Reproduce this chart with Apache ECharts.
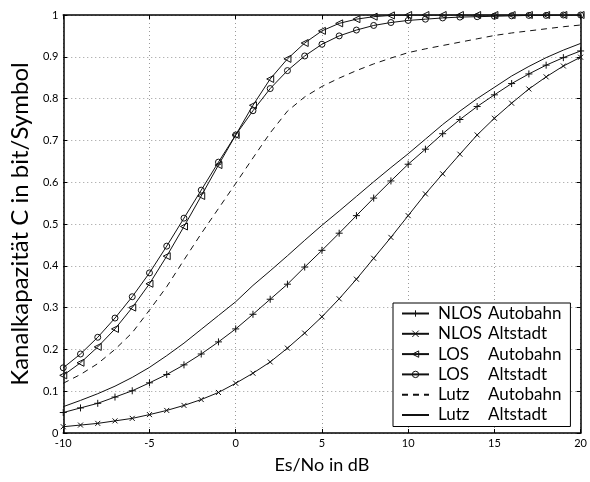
<!DOCTYPE html>
<html><head><meta charset="utf-8">
<script src="https://cdn.jsdelivr.net/npm/echarts@6/dist/echarts.min.js"></script>
<style>html,body{margin:0;padding:0;background:#fff}#c{width:590px;height:482px}</style>
</head><body><div id="c"></div>
<script>
const esNo = [-10,-9,-8,-7,-6,-5,-4,-3,-2,-1,0,1,2,3,4,5,6,7,8,9,10,11,12,13,14,15,16,17,18,19,20];
const nlosAutobahn = [0.049,0.060,0.071,0.086,0.101,0.120,0.140,0.163,0.189,0.218,0.249,0.284,0.320,0.356,0.397,0.437,0.478,0.520,0.562,0.603,0.643,0.679,0.716,0.750,0.781,0.809,0.836,0.859,0.880,0.898,0.914];
const nlosAltstadt = [0.015,0.019,0.023,0.029,0.035,0.044,0.054,0.066,0.080,0.097,0.119,0.143,0.170,0.203,0.239,0.278,0.321,0.368,0.418,0.468,0.520,0.572,0.620,0.667,0.713,0.753,0.789,0.823,0.852,0.878,0.899];
const losAutobahn = [0.138,0.168,0.206,0.249,0.300,0.357,0.423,0.494,0.567,0.641,0.713,0.784,0.847,0.895,0.933,0.962,0.980,0.990,0.996,0.999,1,1,1,1,1,1,1,1,1,1,1];
const losAltstadt = [0.156,0.189,0.229,0.275,0.326,0.383,0.447,0.514,0.581,0.648,0.713,0.771,0.824,0.867,0.902,0.930,0.950,0.964,0.975,0.982,0.987,0.990,0.993,0.995,0.996,0.997,0.998,0.999,0.999,1,1];
const lutzAutobahn = [0.119,0.140,0.166,0.200,0.240,0.294,0.350,0.414,0.477,0.537,0.597,0.658,0.718,0.770,0.804,0.829,0.849,0.867,0.883,0.897,0.910,0.919,0.927,0.935,0.943,0.951,0.957,0.962,0.967,0.972,0.976];
const lutzAltstadt = [0.063,0.078,0.094,0.112,0.133,0.157,0.185,0.215,0.248,0.281,0.314,0.353,0.388,0.424,0.461,0.497,0.531,0.566,0.601,0.635,0.668,0.703,0.738,0.770,0.800,0.827,0.854,0.877,0.898,0.916,0.932];
const seriesNames = ['NLOS Autobahn','NLOS Altstadt','LOS Autobahn','LOS Altstadt','Lutz Autobahn','Lutz Altstadt'];
const xTitle = 'Es/No in dB';
const yTitle = 'Kanalkapazität C in bit/Symbol';

const FONT = 'Lato';
const pairs = arr => esNo.map((x,i)=>[x,arr[i]]);
const mk = {
  plus: 'path://M5,0L5,10M0,5L10,5',
  cross: 'path://M0,0L10,10M10,0L0,10',
  tri: 'path://M0,5L10,0L10,10Z',
  circ: 'circle'
};
function ser(name, data, symbol, size, dashed){
  return {
    name, type:'line', data: pairs(data), smooth:false,
    symbol: symbol || 'none', symbolSize: size || 0, showSymbol: !!symbol,
    lineStyle:{color:'#111', width:1, type: dashed ? [6,5] : 'solid'},
    itemStyle:{color:'rgba(0,0,0,0)', borderColor:'#111', borderWidth:1},
    emphasis:{disabled:true}, animation:false, z:3
  };
}
const series = [
  ser(seriesNames[0], nlosAutobahn, mk.plus, 7),
  ser(seriesNames[1], nlosAltstadt, mk.cross, 5),
  ser(seriesNames[2], losAutobahn, mk.tri, 7),
  ser(seriesNames[3], losAltstadt, mk.circ, 6),
  ser(seriesNames[4], lutzAutobahn, null, 0, true),
  ser(seriesNames[5], lutzAltstadt, null, 0)
];
const axLine = {show:true, onZero:false, lineStyle:{color:'#000', width:1.5}};
const tick = {show:true, inside:true, length:4, lineStyle:{color:'#000', width:1}};
const split = {show:true, lineStyle:{color:'#9a9a9a', width:1, type:[1,3]}};
const legendData = seriesNames.map((n,i) => i < 4 ? {name:n} :
  {name:n, itemStyle:{color:'rgba(0,0,0,0)', borderWidth:0, opacity:0}});
const chart = echarts.init(document.getElementById('c'), null, {renderer:'canvas'});
chart.setOption({
  animation:false,
  backgroundColor:'#fff',
  grid:{left:54, right:6, top:15, bottom:49, show:false},
  xAxis:[
    {type:'value', min:-10, max:20, interval:5, position:'bottom',
     axisLine:axLine, axisTick:tick, splitLine:split,
     axisLabel:{color:'#000', fontFamily:FONT, fontSize:11, margin:5},
     name:xTitle, nameLocation:'middle', nameGap:23,
     nameTextStyle:{color:'#000', fontFamily:FONT, fontSize:18}},
    {type:'value', min:-10, max:20, interval:5, position:'top',
     axisLine:axLine, axisTick:tick, splitLine:{show:false}, axisLabel:{show:false}}
  ],
  yAxis:[
    {type:'value', min:0, max:1, interval:0.1, position:'left',
     axisLine:axLine, axisTick:tick, splitLine:split,
     axisLabel:{color:'#000', fontFamily:FONT, fontSize:11, margin:5,
       formatter: v => (v===0||v===1) ? String(v) : v.toFixed(1)},
     name:yTitle, nameLocation:'middle', nameGap:15, nameRotate:90,
     nameTextStyle:{color:'#000', fontFamily:FONT, fontSize:24}},
    {type:'value', min:0, max:1, interval:0.1, position:'right',
     axisLine:axLine, axisTick:tick, splitLine:{show:false}, axisLabel:{show:false}}
  ],
  legend:{
    show:true, orient:'vertical', left:393, top:303,
    backgroundColor:'#fff', borderColor:'#000', borderWidth:1,
    padding:[2,9,3,8], itemWidth:27, itemHeight:8, itemGap:3.3,
    itemStyle:{color:'rgba(0,0,0,0)', borderColor:'#111', borderWidth:1},
    data: legendData,
    textStyle:{color:'#000', fontFamily:FONT, fontSize:17,
      rich:{
        a:{width:50, padding:[0,0,0,4], color:'#000', fontFamily:FONT, fontSize:17},
        b:{width:88, color:'#000', fontFamily:FONT, fontSize:17}
      }},
    formatter: n => { const p = n.split(' '); return '{a|'+p[0]+'}{b|'+p[1]+'}'; }
  },
  series
});
</script>
</body></html>
